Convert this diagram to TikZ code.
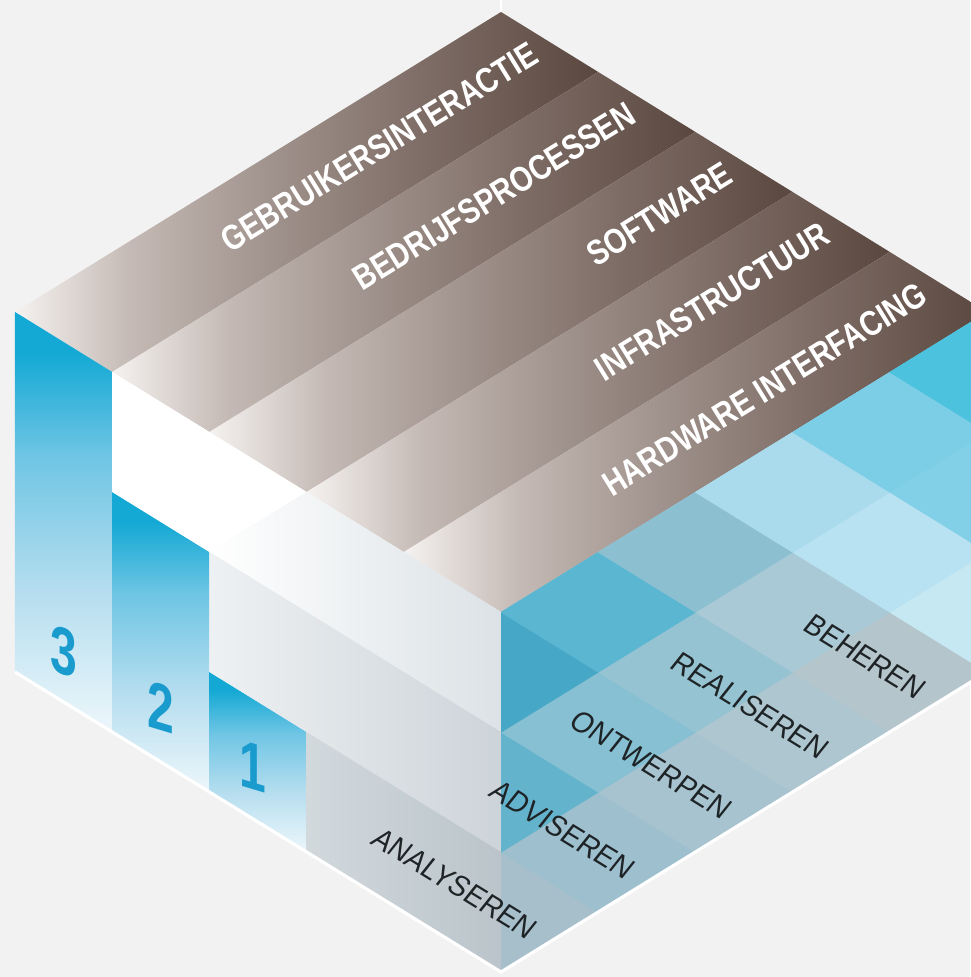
\documentclass[tikz,border=0pt]{standalone}
\usepackage{fontspec}
\setmainfont{Liberation Sans}
\newfontfamily\condfont[FakeStretch=0.82]{Liberation Sans}
\newfontfamily\phasefont[FakeStretch=0.92, FakeSlant=0.12]{Liberation Sans}
\newfontfamily\digitfont[FakeStretch=0.72]{Liberation Sans}
\usetikzlibrary{positioning}

\definecolor{bggrey}{HTML}{F2F2F2}
\definecolor{stripeA}{HTML}{F5F2F0}
\definecolor{stripeB}{HTML}{C4B9B4}
\definecolor{stripeC}{HTML}{A0928C}
\definecolor{stripeD}{HTML}{7E6D66}
\definecolor{stripeE}{HTML}{5A4840}
\definecolor{barA}{HTML}{EDF7FB}
\definecolor{barB}{HTML}{B4DDEF}
\definecolor{barC}{HTML}{6EC5E4}
\definecolor{barD}{HTML}{14A9D4}
\definecolor{gOneR}{HTML}{DCE2E6}
\definecolor{gTwoL}{HTML}{EEF1F3}
\definecolor{gTwoR}{HTML}{CDD4D9}
\definecolor{gThreeL}{HTML}{D2D9DD}
\definecolor{gThreeR}{HTML}{BAC4CA}
\definecolor{digitblue}{HTML}{1A9BCE}
\definecolor{phaseblack}{HTML}{1E2326}
% right face cells, row / band
\definecolor{rf00}{HTML}{A6BFCB}
\definecolor{rf01}{HTML}{9DBFCE}
\definecolor{rf02}{HTML}{A7C3CF}
\definecolor{rf03}{HTML}{AEC6D0}
\definecolor{rf04}{HTML}{B5C5CC}
\definecolor{rf05}{HTML}{C5E8F3}
\definecolor{rf11}{HTML}{64B3CC}
\definecolor{rf12}{HTML}{86C0D2}
\definecolor{rf13}{HTML}{95C3D2}
\definecolor{rf14}{HTML}{A8C9D5}
\definecolor{rf15}{HTML}{B8E2F1}
\definecolor{rf16}{HTML}{82D0E8}
\definecolor{rf22}{HTML}{47A7C6}
\definecolor{rf23}{HTML}{5BB6D2}
\definecolor{rf24}{HTML}{8CC0D1}
\definecolor{rf25}{HTML}{A9DBED}
\definecolor{rf26}{HTML}{7CCDE6}
\definecolor{rf27}{HTML}{4CC2DF}

\pgfdeclarehorizontalshading{stripeshade}{100bp}{color(0bp)=(stripeA); color(25bp)=(stripeA); color(35bp)=(stripeB); color(47bp)=(stripeC); color(60bp)=(stripeD); color(75bp)=(stripeE); color(100bp)=(stripeE)}
\pgfdeclareverticalshading{barshade}{100bp}{color(0bp)=(barA); color(25bp)=(barA); color(42bp)=(barB); color(58bp)=(barC); color(70bp)=(barD); color(75bp)=(barD); color(100bp)=(barD)}

\tikzset{
	stripe/.style={shading=stripeshade},
	bar/.style={shading=barshade},
	layer label/.style={text=white, font=\condfont\bfseries\fontsize{10}{10}\selectfont, rotate=31.7, anchor=east, inner sep=0pt},
	phase label/.style={text=phaseblack, font=\phasefont\fontsize{8.6}{8.6}\selectfont, rotate=-31.7, anchor=east, inner sep=0pt},
	level label/.style={text=digitblue, font=\digitfont\bfseries\fontsize{19}{19}\selectfont, yslant=-0.3, inner sep=0pt}
}

\begin{document}
\begin{tikzpicture}
	\useasboundingbox (0,0) rectangle (9.70,9.77);
	\fill[bggrey] (0,0) rectangle (9.70,9.77);
	\begin{scope}[shift={(0.15,3.05)}, x={(0.972cm,-0.6cm)}, y={(0.972cm,0.6cm)}, z={(0cm,1.2cm)}]
		% top face: five layers
		\foreach\i in {0,...,4}{
			\shade[stripe] (\i,0,3) -- (\i,5,3) -- (\i+1,5,3) -- (\i+1,0,3) -- cycle;
		}

		% left face: bars and steps
		\shade[bar] (0,0,0) -- (1,0,0) -- (1,0,3) -- (0,0,3) -- cycle;
		\shade[bar] (1,0,0) -- (2,0,0) -- (2,0,2) -- (1,0,2) -- cycle;
		\shade[bar] (2,0,0) -- (3,0,0) -- (3,0,1) -- (2,0,1) -- cycle;
		\fill[white] (1,0,2) -- (1,0,3) -- (2,0,3) -- (3,0,3) -- (2,0,2) -- cycle;
		\shade[left color=white, right color=gOneR] (2,0,2) -- (3,0,3) -- (5,0,3) -- (5,0,2) -- cycle;
		\shade[left color=gTwoL, right color=gTwoR] (2,0,1) -- (2,0,2) -- (5,0,2) -- (5,0,1) -- cycle;
		\shade[left color=gThreeL, right color=gThreeR] (3,0,0) -- (3,0,1) -- (5,0,1) -- (5,0,0) -- cycle;

		% right face: grid of cells
		\begin{scope}
			\clip (5,0,0) -- (5,5,0) -- (5,5,3) -- (5,0,3) -- cycle;
			\foreach\r/\c in {0/0,0/1,0/2,0/3,0/4,0/5,1/1,1/2,1/3,1/4,1/5,1/6,2/2,2/3,2/4,2/5,2/6,2/7}{
				\fill[rf\r\c, draw=rf\r\c, line width=0.3pt] (5,\c-\r,\r) -- (5,\c-\r+1,\r) -- (5,\c-\r,\r+1) -- (5,\c-\r-1,\r+1) -- cycle;
			}
		\end{scope}

		\draw[white, line width=0.9pt] (0,0,0) -- (5,0,0) -- (5,5,0);
		\coordinate (apex) at (0,5,3);
		\coordinate (apextop) at (0,5,3.12);
		\draw[white, line width=0.8pt] (apex) -- (apextop);

		% labels
		\foreach\name/\txt [count=\n from 0] in {gebr/GEBRUIKERSINTERACTIE,bedr/BEDRIJFSPROCESSEN,soft/SOFTWARE,infra/INFRASTRUCTUUR,hw/HARDWARE INTERFACING}{
			\node[layer label] (\name) at (\n+0.5,4.85,3) {\txt};
		}
		\foreach\name/\txt [count=\n from 0] in {analyse/ANALYSEREN,advies/ADVISEREN,ontwerp/ONTWERPEN,realisatie/REALISEREN,beheer/BEHEREN}{
			\node[phase label] (\name) at (5,\n+0.33,0.17) {\txt};
		}
		\node[level label] (lvl3) at (0.5,0,0.42) {3};
		\node[level label] (lvl2) at (1.5,0,0.46) {2};
		\node[level label] (lvl1) at (2.45,0,0.44) {1};
	\end{scope}
\end{tikzpicture}
\end{document}
